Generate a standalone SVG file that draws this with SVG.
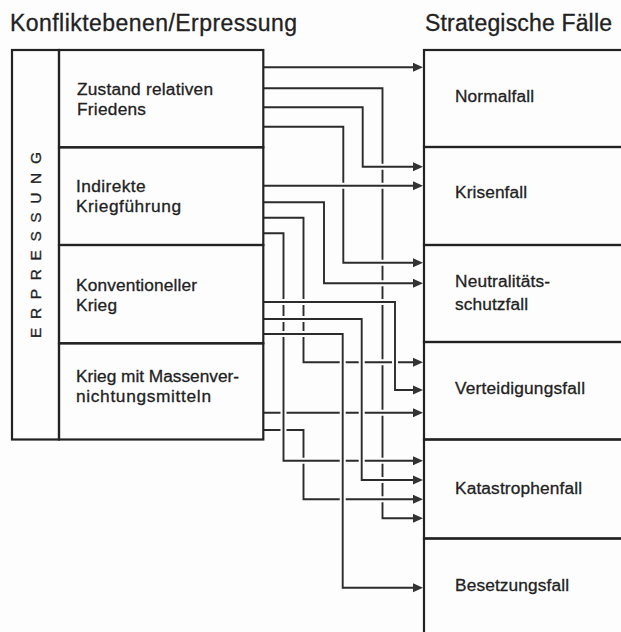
<svg xmlns="http://www.w3.org/2000/svg" width="621" height="632" viewBox="0 0 621 632">
<style>
.halo{fill:none;stroke:#fdfdfd;stroke-width:6}
.ln{fill:none;stroke:#2b2b2b;stroke-width:1.9;marker-end:url(#ah)}
.box{fill:none;stroke:#222;stroke-width:2.2}
.t{font-family:"Liberation Sans",Arial,sans-serif;font-size:17.3px;fill:#222;stroke:#222;stroke-width:0.3}
.h{font-size:23px}
.v{font-size:15.5px}
</style>
<defs>
<marker id="ah" viewBox="0 0 10 10" refX="0" refY="5" markerWidth="10" markerHeight="10" markerUnits="userSpaceOnUse" orient="auto">
<path d="M0,0.5 L10,5 L0,9.5 Z" fill="#333"/>
</marker>
</defs>
<rect width="621" height="632" fill="#fdfdfd"/>
<g id="titles">
<text class="t h" x="10" y="31" textLength="287">Konfliktebenen/Erpressung</text>
<text class="t h" x="425" y="31" textLength="187">Strategische Fälle</text>
</g>
<g id="connectors">
<path class="halo" d="M263,88.3 H382.5 V518.3 H413"/><path class="ln" d="M263,88.3 H382.5 V518.3 H413"/>
<path class="halo" d="M263,412.7 H413"/><path class="ln" d="M263,412.7 H413"/>
<path class="halo" d="M263,430 H303.5 V499.3 H413"/><path class="ln" d="M263,430 H303.5 V499.3 H413"/>
<path class="halo" d="M263,217.7 H303.5 V362.3 H413"/><path class="ln" d="M263,217.7 H303.5 V362.3 H413"/>
<path class="halo" d="M263,233.3 H283.5 V460.7 H413"/><path class="ln" d="M263,233.3 H283.5 V460.7 H413"/>
<path class="halo" d="M263,126.7 H343.3 V262.7 H413"/><path class="ln" d="M263,126.7 H343.3 V262.7 H413"/>
<path class="halo" d="M263,185.7 H413"/><path class="ln" d="M263,185.7 H413"/>
<path class="halo" d="M263,107.3 H362.7 V166.7 H413"/><path class="ln" d="M263,107.3 H362.7 V166.7 H413"/>
<path class="halo" d="M263,67.3 H413"/><path class="ln" d="M263,67.3 H413"/>
<path class="halo" d="M263,202.3 H324 V283.3 H413"/><path class="ln" d="M263,202.3 H324 V283.3 H413"/>
<path class="halo" d="M263,302 H395 V390 H413"/><path class="ln" d="M263,302 H395 V390 H413"/>
<path class="halo" d="M263,319 H361.7 V480 H413"/><path class="ln" d="M263,319 H361.7 V480 H413"/>
<path class="halo" d="M263,334 H342.7 V587.7 H413"/><path class="ln" d="M263,334 H342.7 V587.7 H413"/>
</g>
<g id="erpressung">
<rect class="box" x="12" y="50" width="47" height="389.5"/>
<text class="t v" transform="translate(41,338) rotate(-90)" textLength="186">ERPRESSUNG</text>
</g>
<g id="frieden">
<rect class="box" x="59" y="50" width="204.3" height="97.3"/>
<text class="t" x="77" y="95" textLength="136">Zustand relativen</text>
<text class="t" x="77" y="115" textLength="69">Friedens</text>
</g>
<g id="indirekt">
<rect class="box" x="59" y="147.3" width="204.3" height="97.7"/>
<text class="t" x="76" y="192" textLength="69.5">Indirekte</text>
<text class="t" x="76" y="212" textLength="105">Kriegführung</text>
</g>
<g id="konventionell">
<rect class="box" x="59" y="245" width="204.3" height="98.3"/>
<text class="t" x="76" y="291" textLength="121">Konventioneller</text>
<text class="t" x="76" y="311" textLength="41">Krieg</text>
</g>
<g id="massenvernichtung">
<rect class="box" x="59" y="343.3" width="204.3" height="96.2"/>
<text class="t" x="76" y="382" textLength="163">Krieg mit Massenver-</text>
<text class="t" x="76" y="402" textLength="135">nichtungsmitteln</text>
</g>
<g id="normalfall">
<rect class="box" x="424" y="50" width="240" height="97"/>
<text class="t" x="455" y="102" textLength="79">Normalfall</text>
</g>
<g id="krisenfall">
<rect class="box" x="424" y="147" width="240" height="98"/>
<text class="t" x="455" y="198" textLength="72">Krisenfall</text>
</g>
<g id="neutralitaetsschutzfall">
<rect class="box" x="424" y="245" width="240" height="97"/>
<text class="t" x="455" y="287" textLength="95">Neutralitäts-</text>
<text class="t" x="455" y="310" textLength="73">schutzfall</text>
</g>
<g id="verteidigungsfall">
<rect class="box" x="424" y="342" width="240" height="97.5"/>
<text class="t" x="455" y="394" textLength="130">Verteidigungsfall</text>
</g>
<g id="katastrophenfall">
<rect class="box" x="424" y="439.5" width="240" height="99"/>
<text class="t" x="455" y="494" textLength="127">Katastrophenfall</text>
</g>
<g id="besetzungsfall">
<rect class="box" x="424" y="538.5" width="240" height="120"/>
<text class="t" x="455" y="591" textLength="114">Besetzungsfall</text>
</g>
</svg>
